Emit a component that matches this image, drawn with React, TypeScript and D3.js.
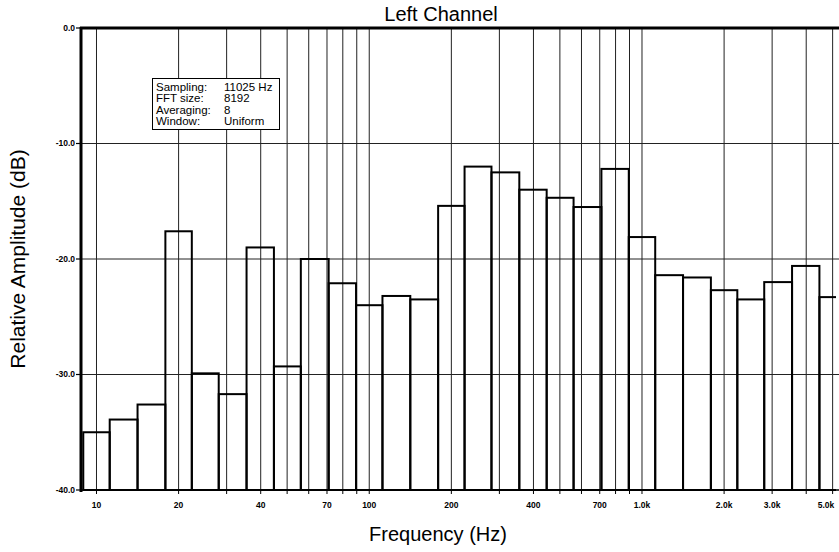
import React from "react";
import * as d3 from "d3";

// 1/3-octave band centre frequencies (Hz)
const bandCenters = [10, 12.5, 16, 20, 25, 31.5, 40, 50, 63, 80, 100, 125, 160, 200, 250, 315, 400, 500, 630, 800, 1000, 1250, 1600, 2000, 2500, 3150, 4000, 5000];
// Relative amplitude per band (dB)
const levels = [-35.0, -33.9, -32.6, -17.6, -29.9, -31.7, -19.0, -29.3, -20.0, -22.1, -24.0, -23.2, -23.5, -15.4, -12.0, -12.5, -14.0, -14.7, -15.5, -12.2, -18.1, -21.4, -21.6, -22.7, -23.5, -22.0, -20.6, -23.3];

const yTicks = [0, -10, -20, -30, -40];
const yTickLabels = ["0.0", "-10.0", "-20.0", "-30.0", "-40.0"];
const xTicks = [10, 20, 40, 70, 100, 200, 400, 700, 1000, 2000, 3000, 5000];
const xTickLabels = ["10", "20", "40", "70", "100", "200", "400", "700", "1.0k", "2.0k", "3.0k", "5.0k"];
const gridDecades = [10, 100, 1000];
const gridMultipliers = [1, 2, 3, 4, 5, 6, 7, 8, 9];

const infoLabels = ["Sampling:", "FFT size:", "Averaging:", "Window:"];
const infoValues = ["11025 Hz", "8192", "8", "Uniform"];

const title = "Left Channel";
const xTitle = "Frequency (Hz)";
const yTitle = "Relative Amplitude (dB)";

const W = 839;
const H = 552;
const left = 81;
const right = 836;
const top = 28;
const bottom = 490;
const FONT = "'Liberation Sans', Arial, Helvetica, sans-serif";

export default function App() {
  const x = d3.scaleLog().domain([8.774, 5144]).range([left, right]);
  const y = d3.scaleLinear().domain([0, -40]).range([top, bottom]);

  const gridFreqs = gridDecades
    .flatMap((d) => gridMultipliers.map((m) => d * m))
    .filter((f) => x(f) > left + 1 && x(f) < right);

  const edges: number[] = [];
  const n = bandCenters.length;
  edges.push(bandCenters[0] / Math.sqrt(bandCenters[1] / bandCenters[0]));
  for (let i = 0; i < n - 1; i++) edges.push(Math.sqrt(bandCenters[i] * bandCenters[i + 1]));
  edges.push(bandCenters[n - 1] * Math.sqrt(bandCenters[n - 1] / bandCenters[n - 2]));

  return (
    <svg width={W} height={H} style={{ position: "absolute", left: 0, top: 0, background: "#fff" }}>
      <defs>
        <clipPath id="plotClip">
          <rect x={left} y={top - 2} width={right - left} height={bottom - top + 4} />
        </clipPath>
      </defs>
      <rect x={0} y={0} width={W} height={H} fill="#fff" />

      {/* horizontal grid */}
      {yTicks.slice(1, -1).map((t) => (
        <line key={"hg" + t} x1={left} x2={W} y1={y(t)} y2={y(t)} stroke="#222" strokeWidth={1} />
      ))}
      {/* vertical grid */}
      {gridFreqs.map((f) => (
        <line key={"vg" + f} x1={x(f)} x2={x(f)} y1={top} y2={bottom} stroke="#222" strokeWidth={1} />
      ))}

      {/* bars */}
      <g clipPath="url(#plotClip)">
        {bandCenters.map((c, i) => (
          <rect
            key={"b" + c}
            x={x(edges[i])}
            y={y(levels[i])}
            width={x(edges[i + 1]) - x(edges[i])}
            height={y(-40) - y(levels[i])}
            fill="none"
            stroke="#000"
            strokeWidth={2}
          />
        ))}
      </g>

      {/* frame */}
      <line x1={left - 1} x2={W} y1={top} y2={top} stroke="#000" strokeWidth={3} />
      <line x1={left} x2={left} y1={top - 1} y2={bottom + 2} stroke="#000" strokeWidth={3} />
      <line x1={left} x2={W} y1={bottom} y2={bottom} stroke="#000" strokeWidth={1.5} />

      {/* y ticks */}
      {yTicks.map((t, i) => (
        <g key={"yt" + t}>
          <line x1={left - 5} x2={left} y1={y(t)} y2={y(t)} stroke="#000" strokeWidth={1.2} />
          <text
            x={left - 6}
            y={y(t)}
            dy="0.35em"
            textAnchor="end"
            fontFamily={FONT}
            fontWeight="bold"
            fontSize={8.5}
            fill="#000"
          >
            {yTickLabels[i]}
          </text>
        </g>
      ))}

      {/* x minor ticks */}
      {gridFreqs.map((f) => (
        <line key={"xt" + f} x1={x(f)} x2={x(f)} y1={bottom} y2={bottom + 4} stroke="#000" strokeWidth={1} />
      ))}
      {xTicks.map((t, i) => (
        <text
          key={"xl" + t}
          x={Math.min(x(t), W - 13)}
          y={bottom + 18}
          textAnchor="middle"
          fontFamily={FONT}
          fontWeight="bold"
          fontSize={8.5}
          fill="#000"
        >
          {xTickLabels[i]}
        </text>
      ))}

      {/* titles */}
      <text x={441} y={21} textAnchor="middle" fontFamily={FONT} fontSize={20} fill="#000">
        {title}
      </text>
      <text x={438} y={541} textAnchor="middle" fontFamily={FONT} fontSize={20} fill="#000">
        {xTitle}
      </text>
      <text
        transform={`translate(25, ${(top + bottom) / 2}) rotate(-90)`}
        textAnchor="middle"
        fontFamily={FONT}
        fontSize={21}
        fill="#000"
      >
        {yTitle}
      </text>

      {/* info box */}
      <g>
        <rect x={152.5} y={78.5} width={127} height={51} fill="#fff" stroke="#000" strokeWidth={1} />
        {infoLabels.map((l, i) => (
          <g key={"info" + i}>
            <text x={156} y={90.5 + i * 11.5} fontFamily={FONT} fontSize={11.5} fill="#000">
              {l}
            </text>
            <text x={224} y={90.5 + i * 11.5} fontFamily={FONT} fontSize={11.5} fill="#000">
              {infoValues[i]}
            </text>
          </g>
        ))}
      </g>
    </svg>
  );
}
